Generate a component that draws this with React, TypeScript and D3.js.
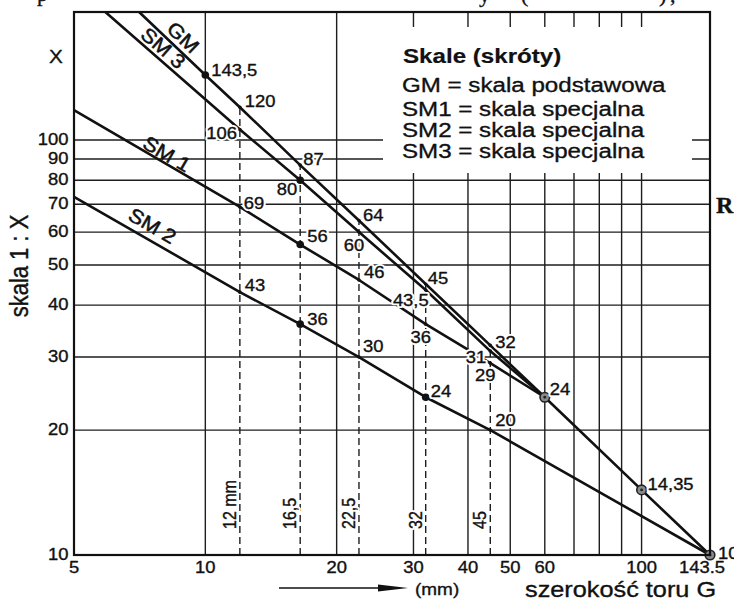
import React from "react";
import * as d3 from "d3";

const W = 734;
const H = 601;
const SANS = "'Liberation Sans', Arial, Helvetica, sans-serif";
const SERIF = "'Liberation Serif', 'Times New Roman', serif";

// ---- axes -------------------------------------------------------------
const xDomain = [5, 143.5];
const yDomain = [10, 203.5];
const xTicks = [5, 10, 20, 30, 40, 50, 60, 100, 143.5];
const xTickLabels = ["5", "10", "20", "30", "40", "50", "60", "100", "143.5"];
const xGrid = [10, 20, 30, 40, 50, 60, 70, 80, 90, 100];
const yTicks = [10, 20, 30, 40, 50, 60, 70, 80, 90, 100];
const yTickLabels = ["10", "20", "30", "40", "50", "60", "70", "80", "90", "100"];
const yGrid = [20, 30, 40, 50, 60, 70, 80, 90, 100];

// ---- series: track gauge G (mm) -> scale 1:X ---------------------------
const gmG = [7.05, 10, 12, 16.5, 22.5, 32, 45, 60, 100, 143.5];
const gmX = [203.5, 143.5, 120, 87, 64, 45, 32, 24, 14.35, 10];
const sm1G = [5, 12, 16.5, 22.5, 32, 45, 60];
const sm1X = [118, 69, 56, 46, 36, 29, 24];
const sm2G = [5, 12, 16.5, 22.5, 32, 45, 143.5];
const sm2X = [73, 43, 36, 30, 24, 20, 10];
const sm3G = [5.9, 12, 16.5, 22.5, 32, 45, 60];
const sm3X = [203.5, 106, 80, 60, 43.5, 31, 24];
const seriesNames = ["GM", "SM 1", "SM 2", "SM 3"];
const seriesLabelG = [8.52, 7.97, 7.29, 7.71];

// ---- dashed gauge lines -------------------------------------------------
const dashG = [12, 16.5, 22.5, 32, 45];
const dashTop = [120, 87, 64, 45, 32];
const dashLabels = ["12 mm", "16,5", "22,5", "32", "45"];

// ---- markers --------------------------------------------------------
const dotG = [10, 16.5, 16.5, 16.5, 32];
const dotX = [143.5, 80, 56, 36, 24];
const ringG = [60, 100, 143.5];
const ringX = [24, 14.35, 10];

// ---- point labels -----------------------------------------------------
const ptText = ["143,5", "120", "106", "87", "80", "69", "56", "64", "60", "46", "45", "43,5", "36", "32", "31", "29", "24", "14,35", "10", "43", "36", "30", "24", "20"];
const ptG = [10, 12, 12, 16.5, 16.5, 12, 16.5, 22.5, 22.5, 22.5, 32, 32, 32, 45, 45, 45, 60, 100, 143.5, 12, 16.5, 22.5, 32, 45];
const ptX = [143.5, 120, 106, 87, 80, 69, 56, 64, 60, 46, 45, 43.5, 36, 32, 31, 29, 24, 14.35, 10, 43, 36, 30, 24, 20];

// ---- legend -------------------------------------------------------------
const legendTitle = "Skale (skróty)";
const legendLines = ["GM = skala podstawowa", "SM1 = skala specjalna", "SM2 = skala specjalna", "SM3 = skala specjalna"];

// styles (placement offsets of labels, not data)
const ptOffsets: [string, number, number][] = [
  ["start", 6, 1], ["start", 5, 0], ["end", -3, 9], ["start", 3, 0], ["end", -3, 15],
  ["start", 4, 2], ["start", 7, -3], ["start", 4, 1], ["middle", -5, 19], ["start", 5, -2],
  ["start", 2, 0], ["end", 3, 16], ["middle", -5, 19], ["start", 5, 3], ["end", -4, 12],
  ["middle", -5, 18], ["start", 5, -2], ["start", 6, 0], ["start", 8, 4], ["start", 5, -1],
  ["start", 7, 1], ["start", 4, -5], ["start", 5, 0], ["start", 5, -4],
];
const seriesLabelOffset = [-5, -2, -7, -4];
const SX = 1.15;

function T(props: any) {
  const { x, y, children, size = 16, anchor = "start", weight = "normal", family = SANS, sx = SX, sy = 1, rotate = 0, halo = false, fill = "#111", thick = 0.35 } = props;
  const tr = `translate(${x},${y})` + (rotate ? ` rotate(${rotate})` : "") + ` scale(${sx},${sy})`;
  const common = {
    fontSize: size,
    fontFamily: family,
    fontWeight: weight,
    textAnchor: anchor,
    strokeLinejoin: "round" as const,
  };
  return (
    <g transform={tr}>
      {halo ? (
        <text {...common} fill="#fff" stroke="#fff" strokeWidth={4}>
          {children}
        </text>
      ) : null}
      <text {...common} fill={fill} stroke={thick ? fill : "none"} strokeWidth={thick}>
        {children}
      </text>
    </g>
  );
}

export default function App() {
  const x = d3.scaleLog().domain(xDomain).range([74, 710]);
  const y = d3.scaleLog().domain(yDomain).range([555, 12]);
  const line = d3.line<[number, number]>().x((d) => x(d[0])).y((d) => y(d[1]));

  const series = [
    { g: gmG, v: gmX },
    { g: sm1G, v: sm1X },
    { g: sm2G, v: sm2X },
    { g: sm3G, v: sm3X },
  ];

  const posOn = (gs: number[], xs: number[], g: number) => {
    let i = 0;
    while (i < gs.length - 2 && g > gs[i + 1]) i++;
    const t = (Math.log(g) - Math.log(gs[i])) / (Math.log(gs[i + 1]) - Math.log(gs[i]));
    const lv = Math.log(xs[i]) + t * (Math.log(xs[i + 1]) - Math.log(xs[i]));
    const v = Math.exp(lv);
    const ang = (Math.atan2(y(xs[i + 1]) - y(xs[i]), x(gs[i + 1]) - x(gs[i])) * 180) / Math.PI;
    return { px: x(g), py: y(v), ang };
  };

  const left = x(xDomain[0]);
  const right = x(xDomain[1]);
  const top = y(yDomain[1]);
  const bottom = y(yDomain[0]);

  const isBig = (g: number, v: number) =>
    dotG.some((d, i) => d === g && dotX[i] === v) || ringG.some((d, i) => d === g && ringX[i] === v);

  return (
    <svg width={W} height={H} style={{ position: "absolute", left: 0, top: 0, background: "#fff" }}>
      <rect x={0} y={0} width={W} height={H} fill="#fff" />

      {/* grid */}
      <g stroke="#1e1e1e" strokeWidth={1.4}>
        {xGrid.map((g) => (
          <line key={"vx" + g} x1={x(g)} x2={x(g)} y1={top} y2={bottom} />
        ))}
        {yGrid.map((v) => (
          <line key={"hy" + v} x1={left} x2={right} y1={y(v)} y2={y(v)} />
        ))}
      </g>

      {/* legend box knocks out grid */}
      <rect x={383} y={27} width={309} height={146} fill="#fff" />
      <T x={403} y={63} size={21} weight="bold" thick={0.2}>{legendTitle}</T>
      {legendLines.map((t, i) => (
        <T key={t + i} x={402} y={[92, 116, 137, 158][i]} size={21}>{t}</T>
      ))}

      {/* dashed gauge lines */}
      <g stroke="#1e1e1e" strokeWidth={1.4} strokeDasharray="7 4">
        {dashG.map((g, i) => (
          <line key={"d" + g} x1={x(g)} x2={x(g)} y1={bottom} y2={y(dashTop[i])} />
        ))}
      </g>

      {/* series lines */}
      <g fill="none" stroke="#111" strokeWidth={2.6} strokeLinejoin="round">
        {series.map((s, i) => (
          <path key={"s" + i} d={line(s.g.map((g, j) => [g, s.v[j]] as [number, number])) || ""} />
        ))}
      </g>

      {/* series labels */}
      {series.map((s, i) => {
        const p = posOn(s.g, s.v, seriesLabelG[i]);
        return (
          <g key={"sl" + i} transform={`translate(${p.px},${p.py}) rotate(${p.ang})`}>
            <T x={0} y={seriesLabelOffset[i]} size={20} anchor="middle" sx={1.1} thick={0.5}>{seriesNames[i]}</T>
          </g>
        );
      })}

      {/* small point marks */}
      {ptG.map((g, i) =>
        isBig(g, ptX[i]) ? null : <circle key={"pm" + i} cx={x(g)} cy={y(ptX[i])} r={1.8} fill="#111" />
      )}
      {dotG.map((g, i) => (
        <circle key={"dot" + i} cx={x(g)} cy={y(dotX[i])} r={3.8} fill="#111" />
      ))}
      {ringG.map((g, i) => (
        <g key={"ring" + i}>
          <circle cx={x(g)} cy={y(ringX[i])} r={4.8} fill="#8a8a8a" stroke="#222" strokeWidth={1.6} />
          <circle cx={x(g)} cy={y(ringX[i])} r={1.4} fill="#222" />
        </g>
      ))}

      {/* point labels */}
      {ptText.map((t, i) => {
        const [anc, dx, dy] = ptOffsets[i];
        return (
          <T key={"pl" + i} x={x(ptG[i]) + dx} y={y(ptX[i]) + dy} anchor={anc} halo>
            {t}
          </T>
        );
      })}

      {/* dashed line labels */}
      {dashG.map((g, i) => (
        <T key={"dl" + i} x={x(g) - 4} y={529} rotate={-90} sx={1} sy={1.15} halo>
          {dashLabels[i]}
        </T>
      ))}

      {/* frame */}
      <rect x={left} y={top} width={right - left} height={bottom - top} fill="none" stroke="#111" strokeWidth={2.2} />

      {/* y tick labels */}
      {yTicks.map((v, i) => (
        <T key={"yt" + v} x={68.5} y={y(v) + 5} anchor="end">{yTickLabels[i]}</T>
      ))}
      <T x={56} y={63} size={18} anchor="middle">X</T>
      <T x={28} y={266} size={22} anchor="middle" rotate={-90} sx={1} sy={1.15}>skala 1 : X</T>

      {/* x tick labels */}
      {xTicks.map((g, i) => (
        <T key={"xt" + g} x={x(g) + (g === 143.5 ? -8 : 0)} y={573} anchor="middle">{xTickLabels[i]}</T>
      ))}

      {/* x axis title with arrow */}
      <line x1={279} x2={380} y1={588} y2={588} stroke="#111" strokeWidth={1.5} />
      <path d="M378,584.5 L408,588 L378,591.5 Z" fill="#111" />
      <T x={415} y={595} size={16.5}>(mm)</T>
      <T x={525} y={597} size={22}>szerokość toru G</T>

      {/* fragments of surrounding page text */}
      <T x={37} y={1} size={22} family={SERIF} sx={1}>p</T>
      <T x={479} y={2} size={22} family={SERIF} sx={1}>y</T>
      <T x={521} y={2} size={22} family={SERIF} sx={1}>(</T>
      <T x={659} y={2} size={22} family={SERIF} sx={1}>)</T>
      <T x={670} y={2} size={22} family={SERIF} sx={1}>,</T>
      <T x={716} y={213} size={24} family={SERIF} weight="bold" sx={1}>R</T>
    </svg>
  );
}
